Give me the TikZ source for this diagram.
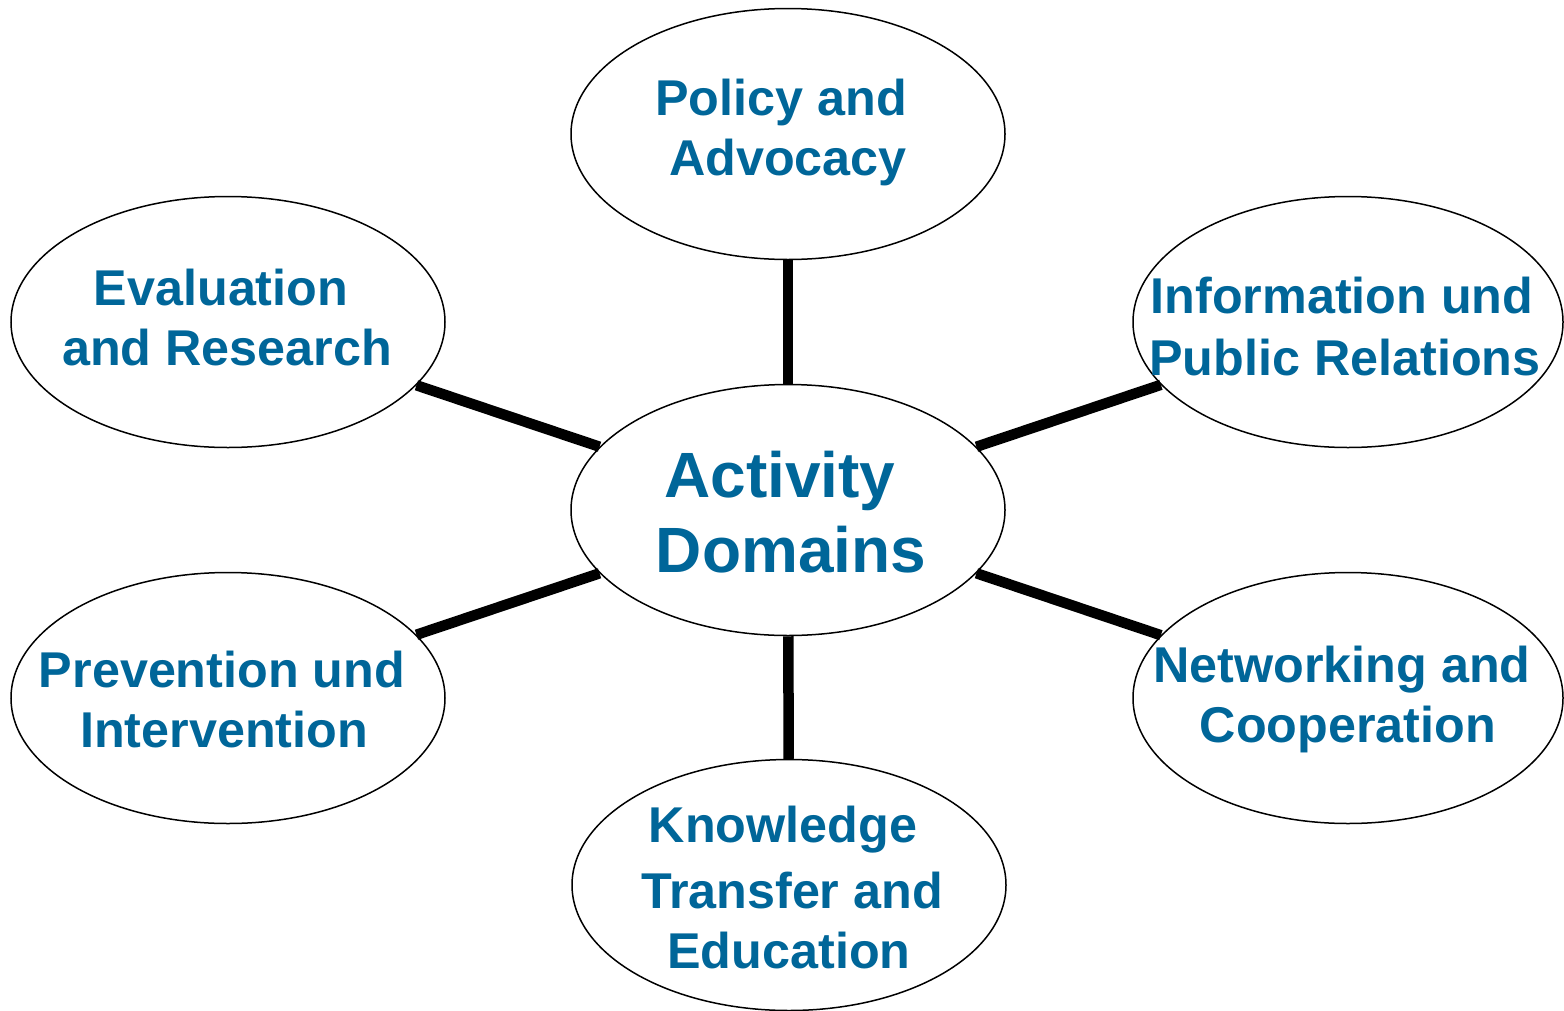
\documentclass[tikz,border=0pt]{standalone}
\usepackage{fontspec}
\setmainfont{Liberation Sans}
\usetikzlibrary{shapes.geometric}
\definecolor{txtblue}{RGB}{0,102,153}
\tikzset{
  ovalbox/.style={ellipse, draw=black, line width=1.5pt, fill=white, inner sep=0pt,
    minimum width=434pt, minimum height=251pt},
  lbl/.style={anchor=base, text=txtblue, inner sep=0pt,
    font=\fontsize{50.3}{58}\selectfont\bfseries},
  biglbl/.style={anchor=base, text=txtblue, inner sep=0pt,
    font=\fontsize{64}{74}\selectfont\bfseries},
  link/.style={line width=10.5pt, draw=black}
}
\begin{document}
\begin{tikzpicture}[x=1pt,y=-1pt]
\useasboundingbox (0,0) rectangle (1564,1010);
% ellipses
\node[ovalbox] (c)  at (788,510) {};
\node[ovalbox] (t)  at (788,134) {};
\node[ovalbox] (lu) at (228,322) {};
\node[ovalbox, minimum width=430pt] (ru) at (1348,322) {};
\node[ovalbox] (ll) at (228,698) {};
\node[ovalbox, minimum width=430pt] (rl) at (1348,698) {};
\node[ovalbox] (b)  at (789,885) {};
% connectors
\draw[link] (c) -- (t);
\draw[link] (c) -- (lu);
\draw[link] (c) -- (ru);
\draw[link] (c) -- (ll);
\draw[link] (c) -- (rl);
\draw[link] (c) -- (b);
% labels
\node[biglbl] (c1) at (780,497) {Activity};
\node[biglbl] (c2) at (791,572) {Domains};
\node[lbl] (t1) at (781,115) {Policy and};
\node[lbl] (t2) at (788,175) {Advocacy};
\node[lbl] (lu1) at (221,305) {Evaluation};
\node[lbl] (lu2) at (227,365) {and Research};
\node[lbl] (ru1) at (1342,313) {Information und};
\node[lbl] (ru2) at (1345,375) {Public Relations};
\node[lbl] (ll1) at (222,687) {Prevention und};
\node[lbl] (ll2) at (224,747) {Intervention};
\node[lbl] (rl1) at (1342,682) {Networking and};
\node[lbl] (rl2) at (1348,742) {Cooperation};
\node[lbl] (b1) at (783,842) {Knowledge};
\node[lbl] (b2) at (792,908) {Transfer and};
\node[lbl] (b3) at (789,968) {Education};
\end{tikzpicture}
\end{document}
